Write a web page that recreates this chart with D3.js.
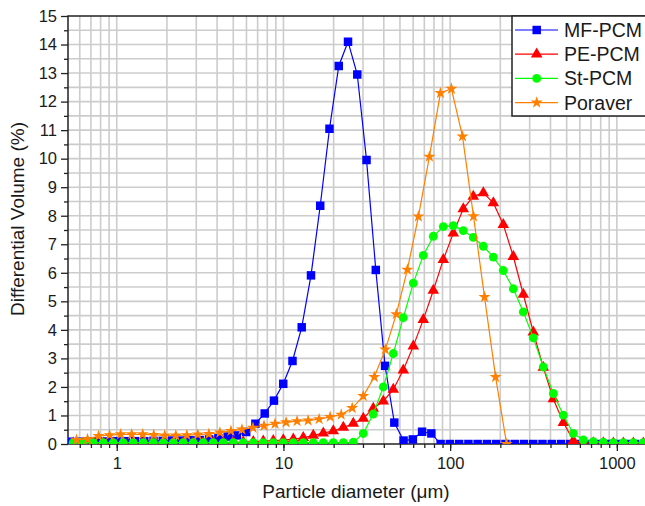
<!DOCTYPE html>
<html><head><meta charset="utf-8">
<script src="https://cdn.jsdelivr.net/npm/d3@7"></script>
<style>body{margin:0;background:#fff} svg{display:block} text{font-family:"Liberation Sans",Arial,sans-serif}</style>
</head><body><svg id="c" width="645" height="506"></svg>
<script>
// ---- data ----
const seriesNames = ["MF-PCM", "PE-PCM", "St-PCM", "Poraver"];
const mfDiameter = [0.526,0.598,0.679,0.772,0.877,0.997,1.133,1.287,1.463,1.662,1.889,2.147,2.44,2.77,3.15,3.58,4.07,4.63,5.26,5.98,6.79,7.72,8.77,9.97,11.33,12.87,14.63,16.62,18.89,21.47,24.4,27.73,31.51,35.81,40.7,46.25,52.56,59.73,67.88,77.15,87.67,99.6,113.2,128.7,146.2,166.2,188.9,214.7,244,277.3,315.1,358.1,407,462.5,525.6,597.3,678.8,771.5,876.7,996,1132,1287,1462];
const mfVolume = [0.08,0.08,0.09,0.09,0.09,0.1,0.1,0.1,0.1,0.11,0.11,0.12,
  0.12,0.13,0.14,0.16,0.2,0.26,0.3,0.42,0.71,1.07,1.52,2.11,2.91,4.09,5.91,8.35,11.05,13.25,
  14.1,12.95,9.95,6.1,2.74,0.75,0.12,0.16,0.43,0.37,
  0,0,0,0,0,0,0,0,0,0,0,0,0,0,0,0,0,0,0,0,0,0,0];
const peDiameter = [0.548,0.630,0.723,0.830,0.953,1.094,1.256,1.442,1.656,1.901,2.183,2.506,2.877,3.304,3.793,4.355,5.0,5.741,6.592,7.568,8.690,9.977,11.46,13.15,15.10,17.34,19.91,22.86,26.24,30.13,34.59,39.72,45.6,52.36,60.12,69.02,79.25,90.99,104.5,119.9,137.7,158.1,181.6,208.4,239.3,274.8,315.5,362.2,415.9,477.5,548.3,629.5,722.8,829.8,952.8,1094,1256,1442];
const peVolume = [0.03,0.03,0.03,0.03,0.03,0.03,0.03,0.03,0.03,0.03,0.04,0.04,0.04,0.04,0.05,0.05,0.06,0.07,0.08,0.1,0.12,
  0.14,0.17,0.22,0.3,0.38,0.46,0.58,0.72,0.9,1.25,1.5,1.91,2.59,3.43,4.36,5.38,6.46,7.39,8.24,8.68,
  8.8,8.45,7.69,6.57,5.24,3.92,2.68,1.58,0.75,0.12,0.05,0.04,0.04,0.03,0.03,0.03,0.03];
const stDiameter = peDiameter.slice();
const stVolume = [0.05,0.05,0.05,0.05,0.05,0.05,0.05,0.05,0.05,0.05,0.05,0.05,0.05,0.05,0.05,0.05,0.05,0.05,0.05,0.05,0.05,0.05,0.05,0.05,0.05,0.05,0.05,0.05,0.06,
  0.37,1.05,2.0,3.17,4.43,5.64,6.61,7.28,7.62,7.65,7.48,7.24,6.93,6.55,6.08,5.44,4.63,3.72,2.7,1.77,1.01,0.37,0.14,0.08,0.06,0.05,0.05,0.05,0.05];
const poDiameter = [0.574,0.668,0.778,0.906,1.055,1.229,1.431,1.667,1.941,2.261,2.633,3.066,3.569,4.157,4.841,5.638,6.565,7.646,8.904,10.37,12.07,14.06,16.37,19.07,22.21,25.86,30.11,35.07,40.83,47.56,55.38,64.49,75.09,87.46,101.8,118.6,138.1,160.8,187.3,218.2];
const poVolume = [0.14,0.17,0.28,0.31,0.34,0.34,0.34,0.32,0.3,0.3,0.31,0.33,0.35,0.4,0.46,0.51,0.57,0.64,0.71,0.76,0.8,0.82,0.87,0.95,1.03,1.26,1.68,2.35,3.31,4.55,6.11,7.97,10.07,12.3,12.45,10.78,7.98,5.15,2.35,0];
const xTickValues = [1, 10, 100, 1000];
const xTickLabels = ["1", "10", "100", "1000"];
const xGridValues = [0.6,0.7,0.8,0.9,1,2,3,4,5,6,7,8,9,10,20,30,40,50,60,70,80,90,100,200,300,400,500,600,700,800,900,1000];
const yTickValues = [0,1,2,3,4,5,6,7,8,9,10,11,12,13,14,15];
const yMinorValues = [0.5,1.5,2.5,3.5,4.5,5.5,6.5,7.5,8.5,9.5,10.5,11.5,12.5,13.5,14.5];
const xTitle = "Particle diameter (\u03bcm)";
const yTitle = "Differential Volume (%)";

// ---- layout ----
const L = 68, R = 646.2, T = 16, B = 444;
const svg = d3.select("#c");
const x = d3.scaleLog().domain([0.51, 1500]).range([L, R]);
const y = d3.scaleLinear().domain([0, 15]).range([B, T]);

svg.append("defs").append("clipPath").attr("id","clip")
  .append("rect").attr("x", L).attr("y", T).attr("width", R - L).attr("height", B - T);

// grid
const grid = svg.append("g").attr("stroke", "#cccccc").attr("stroke-width", 1.6);
grid.selectAll("line.v").data(xGridValues).join("line")
  .attr("x1", d => x(d)).attr("x2", d => x(d)).attr("y1", T).attr("y2", B);
grid.selectAll("line.h").data(yMinorValues.concat(yTickValues.filter(v => v > 0 && v < 15))).join("line")
  .attr("x1", L).attr("x2", R).attr("y1", d => y(d)).attr("y2", d => y(d));

// axes
const axFont = 16.5;
const gx = svg.append("g").attr("transform", `translate(0,${B})`)
  .call(d3.axisBottom(x).tickValues(xGridValues).tickSize(4).tickFormat(""));
const gx2 = svg.append("g").attr("transform", `translate(0,${B})`)
  .call(d3.axisBottom(x).tickValues(xTickValues).tickSize(7).tickPadding(6)
    .tickFormat((d, i) => xTickLabels[i]));
const gy = svg.append("g").attr("transform", `translate(${L},0)`)
  .call(d3.axisLeft(y).tickValues(yMinorValues).tickSize(4).tickFormat(""));
const gy2 = svg.append("g").attr("transform", `translate(${L},0)`)
  .call(d3.axisLeft(y).tickValues(yTickValues).tickSize(7).tickPadding(4).tickFormat(d3.format("d")));
[gx, gx2, gy, gy2].forEach(g => {
  g.select(".domain").remove();
  g.selectAll(".tick line").attr("stroke", "#222").attr("stroke-width", 1.3);
  g.selectAll("text").attr("fill", "#1a1a1a").attr("font-size", axFont)
    .attr("font-family", '"Liberation Sans", Arial, sans-serif');
});

// frame
svg.append("rect").attr("x", L).attr("y", T).attr("width", R - L + 10).attr("height", B - T)
  .attr("fill", "none").attr("stroke", "#222").attr("stroke-width", 1.5);

// series
const series = [
  {name: seriesNames[0], xs: mfDiameter, ys: mfVolume, color: "#0000ff", sym: d3.symbolSquare, size: 72},
  {name: seriesNames[1], xs: peDiameter, ys: peVolume, color: "#ff0000", sym: d3.symbolTriangle, size: 58},
  {name: seriesNames[2], xs: stDiameter, ys: stVolume, color: "#00ff00", sym: d3.symbolCircle, size: 62},
  {name: seriesNames[3], xs: poDiameter, ys: poVolume, color: "#ff8000", sym: d3.symbolStar, size: 46}
];
const plot = svg.append("g").attr("clip-path", "url(#clip)");
const line = d3.line().x(d => x(d[0])).y(d => y(d[1]));
series.forEach(s => {
  const pts = s.xs.map((d, i) => [d, s.ys[i]]);
  const g = plot.append("g");
  g.append("path").datum(pts).attr("d", line).attr("fill", "none")
    .attr("stroke", s.color).attr("stroke-width", 1.2);
  g.selectAll("path.m").data(pts).join("path").attr("class", "m")
    .attr("transform", d => `translate(${x(d[0])},${y(d[1])})`)
    .attr("d", d3.symbol().type(s.sym).size(s.size)).attr("fill", s.color);
});

// legend
const lg = svg.append("g");
lg.append("rect").attr("x", 512).attr("y", T).attr("width", 150).attr("height", 100)
  .attr("fill", "#fff").attr("stroke", "#222").attr("stroke-width", 1.5);
series.forEach((s, i) => {
  const cy = 30 + i * 24.2;
  lg.append("line").attr("x1", 515).attr("x2", 558).attr("y1", cy).attr("y2", cy)
    .attr("stroke", s.color).attr("stroke-width", 1.2);
  lg.append("path").attr("transform", `translate(536.7,${cy})`)
    .attr("d", d3.symbol().type(s.sym).size(s.size)).attr("fill", s.color);
  lg.append("text").attr("x", 564).attr("y", cy + 7).attr("font-size", 19.5)
    .attr("fill", "#1a1a1a").text(s.name);
});

// titles
svg.append("text").attr("x", 356).attr("y", 498).attr("text-anchor", "middle")
  .attr("font-size", 19).attr("fill", "#1a1a1a").text(xTitle);
svg.append("text").attr("transform", "translate(24,219) rotate(-90)").attr("text-anchor", "middle")
  .attr("font-size", 19).attr("fill", "#1a1a1a").text(yTitle);
</script></body></html>
